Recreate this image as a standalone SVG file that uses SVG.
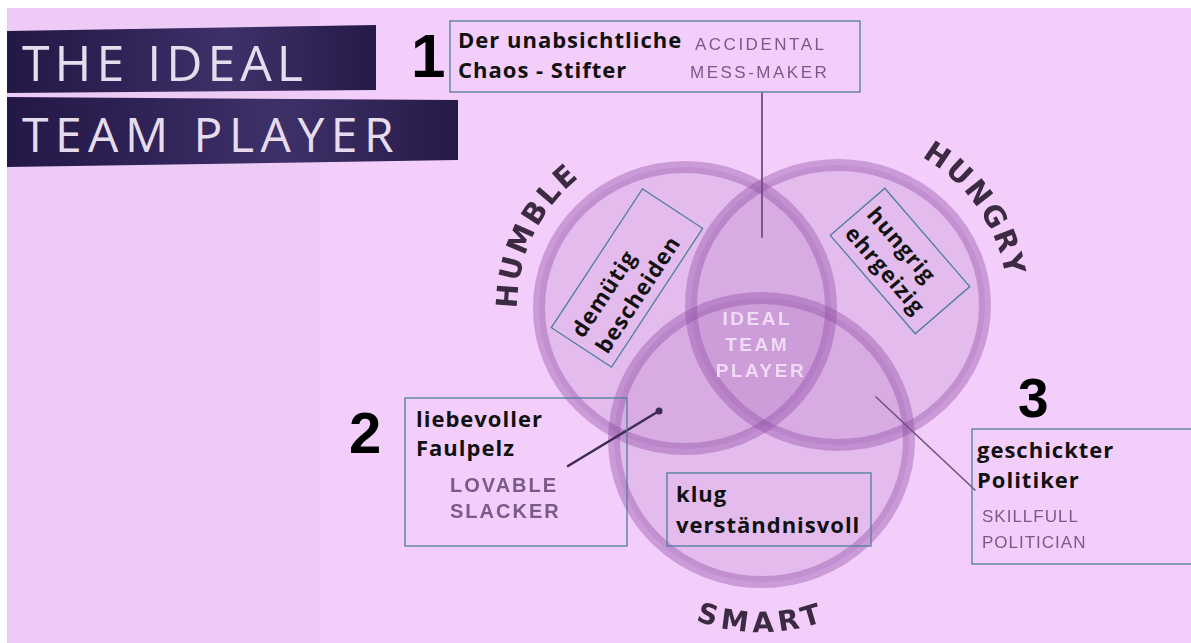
<svg xmlns="http://www.w3.org/2000/svg" width="1191" height="643" viewBox="0 0 1191 643">
  <defs>
    <style>
      .bold { font-family: "Open Sans", "Liberation Sans", sans-serif; font-weight: 700; fill: #111111; letter-spacing: 1px; }
      .num { font-family: "Liberation Sans", Arial, sans-serif; font-weight: 700; fill: #000000; }
      .gray { font-family: "Liberation Sans", Arial, sans-serif; fill: #7a5a88; }
      .arc { font-family: "DejaVu Sans", sans-serif; font-weight: 700; fill: #3b2b42; }
      .box { fill: none; stroke: #4d7f9c; stroke-width: 1.3; }
      .ring { fill: rgba(150,80,170,0.15); stroke: rgba(140,70,160,0.38); stroke-width: 12; }
      .title { font-family: "Open Sans", "Liberation Sans", sans-serif; font-weight: 400; fill: #e6dcee; }
      .conn { fill: none; stroke-linecap: round; }
    </style>
    <linearGradient id="banner" x1="0" y1="0" x2="1" y2="0">
      <stop offset="0" stop-color="#231845"/>
      <stop offset="0.3" stop-color="#2f2256"/>
      <stop offset="0.6" stop-color="#3e3169"/>
      <stop offset="1" stop-color="#261a48"/>
    </linearGradient>
    <filter id="soft" x="-5%" y="-20%" width="110%" height="140%">
      <feGaussianBlur stdDeviation="0.7"/>
    </filter>
    <path id="pHumble" d="M 517.6,322.6 A 168 168 0 0 1 670.4,140.6"/>
    <path id="pHungry" d="M 896.1,145.3 A 170 170 0 0 1 1008,305"/>
    <path id="pSmart" d="M 638.1,587.1 A 192 192 0 0 0 884.9,587.1"/>
  </defs>

  <!-- background -->
  <rect x="0" y="0" width="1191" height="643" fill="#ffffff"/>
  <rect x="7" y="8" width="1184" height="635" fill="#f3cefa"/>
  <rect x="7" y="8" width="313" height="635" fill="#eecbf7"/>

  <!-- title banners -->
  <g id="title">
    <polygon points="7,31 376,25 376,90 7,93" fill="url(#banner)"/>
    <polygon points="7,97 458,100 458,160 7,167" fill="url(#banner)"/>
    <text class="title" x="22" y="81" font-size="50" letter-spacing="5">THE IDEAL</text>
    <text class="title" x="22" y="152" font-size="48" letter-spacing="6.5">TEAM PLAYER</text>
  </g>

  <!-- venn circles -->
  <g id="venn">
    <ellipse id="humble-circle" class="ring" cx="685" cy="308" rx="146" ry="141"/>
    <ellipse id="hungry-circle" class="ring" cx="838" cy="305" rx="147" ry="140"/>
    <ellipse id="smart-circle" class="ring" cx="761.5" cy="440" rx="147.5" ry="142"/>
  </g>

  <g id="arc-labels" filter="url(#soft)">
    <text class="arc" font-size="29" letter-spacing="2.5"><textPath href="#pHumble" startOffset="14">HUMBLE</textPath></text>
    <text class="arc" font-size="29" letter-spacing="2.5"><textPath href="#pHungry" startOffset="28">HUNGRY</textPath></text>
    <text class="arc" font-size="28" letter-spacing="5" text-anchor="middle"><textPath href="#pSmart" startOffset="50%">SMART</textPath></text>
  </g>

  <g id="center-label" filter="url(#soft)">
    <text font-family="Liberation Sans, Arial, sans-serif" font-weight="700" font-size="19" fill="#efdcf4" text-anchor="middle" letter-spacing="2.5">
      <tspan x="761" y="325">IDEAL</tspan>
      <tspan x="761" y="351">TEAM</tspan>
      <tspan x="761" y="377">PLAYER</tspan>
    </text>
  </g>

  <!-- connectors -->
  <g id="connectors">
    <line class="conn" x1="762" y1="93" x2="762" y2="237" stroke="#6d4f7e" stroke-width="1.8"/>
    <line class="conn" x1="568" y1="466" x2="659" y2="411" stroke="#3e2b58" stroke-width="2.6"/>
    <circle cx="659" cy="411" r="3.5" fill="#3e2b58"/>
    <line class="conn" x1="876" y1="397" x2="975" y2="490" stroke="#6e5280" stroke-width="1.6"/>
  </g>

  <!-- node 1 -->
  <g id="node-1">
    <text class="num" x="411" y="77" font-size="62">1</text>
    <rect class="box" x="450" y="21" width="410" height="71"/>
    <text class="bold" x="458" y="48" font-size="22">Der unabsichtliche</text>
    <text class="bold" x="458" y="78" font-size="22">Chaos - Stifter</text>
    <g filter="url(#soft)">
      <text class="gray" x="695" y="50" font-size="17" letter-spacing="2.5" fill="#6f4f7e">ACCIDENTAL</text>
      <text class="gray" x="690" y="78" font-size="17" letter-spacing="2.5" fill="#6f4f7e">MESS-MAKER</text>
    </g>
  </g>

  <!-- humble box -->
  <g id="node-humble" transform="translate(627,278) rotate(-56.7)">
    <rect class="box" x="-83" y="-36" width="166" height="72"/>
    <text class="bold" x="-75" y="-3" font-size="22">demütig</text>
    <text class="bold" x="-75" y="26" font-size="22">bescheiden</text>
  </g>

  <!-- hungry box -->
  <g id="node-hungry" transform="translate(900,261) rotate(49.2)">
    <rect class="box" x="-65" y="-36" width="130" height="72"/>
    <text class="bold" x="-57" y="-4" font-size="22">hungrig</text>
    <text class="bold" x="-57" y="25" font-size="22">ehrgeizig</text>
  </g>

  <!-- node 2 -->
  <g id="node-2">
    <text class="num" x="349" y="453" font-size="58">2</text>
    <rect class="box" x="405" y="398" width="222" height="148"/>
    <text class="bold" x="416" y="427" font-size="22">liebevoller</text>
    <text class="bold" x="416" y="456" font-size="22">Faulpelz</text>
    <g filter="url(#soft)">
      <text class="gray" x="450" y="492" font-size="20" font-weight="700" letter-spacing="2" fill="#6a5878">LOVABLE</text>
      <text class="gray" x="450" y="518" font-size="20" font-weight="700" letter-spacing="2" fill="#6a5878">SLACKER</text>
    </g>
  </g>

  <!-- smart box -->
  <g id="node-smart">
    <rect class="box" x="667" y="473" width="204" height="73"/>
    <text class="bold" x="676" y="502" font-size="22">klug</text>
    <text class="bold" x="676" y="533" font-size="22">verständnisvoll</text>
  </g>

  <!-- node 3 -->
  <g id="node-3">
    <text class="num" x="1018" y="417" font-size="55">3</text>
    <rect class="box" x="972" y="429" width="230" height="135"/>
    <text class="bold" x="977" y="458" font-size="22">geschickter</text>
    <text class="bold" x="977" y="488" font-size="22">Politiker</text>
    <g filter="url(#soft)">
      <text class="gray" x="982" y="522" font-size="17" letter-spacing="1" fill="#8a6a96">SKILLFULL</text>
      <text class="gray" x="982" y="548" font-size="17" letter-spacing="1" fill="#8a6a96">POLITICIAN</text>
    </g>
  </g>
</svg>
